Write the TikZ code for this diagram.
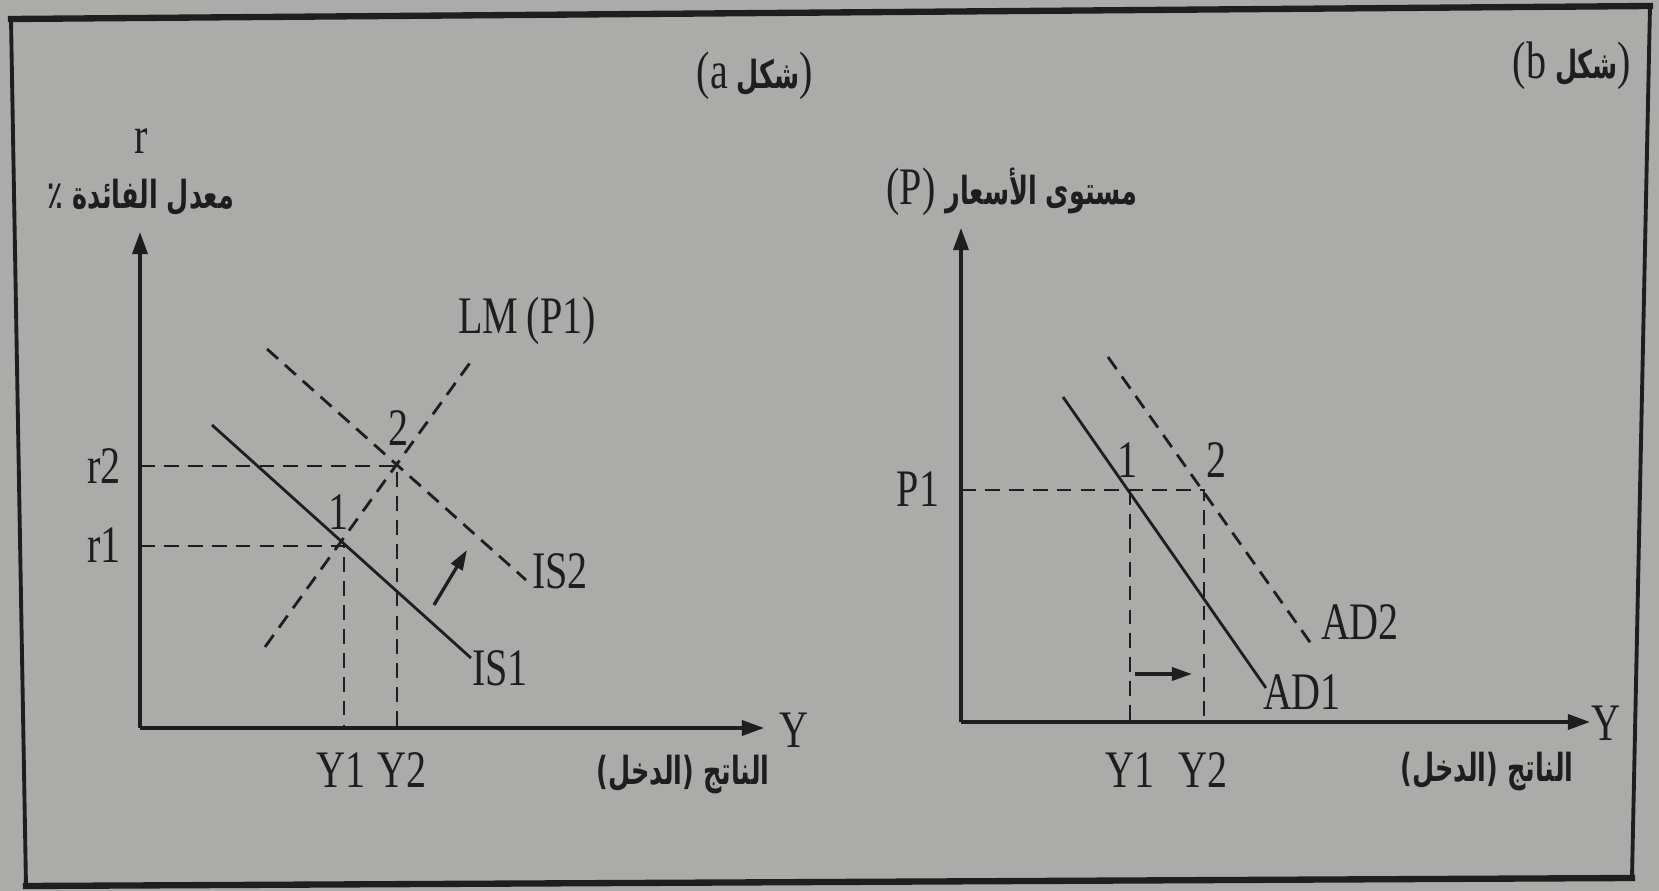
\documentclass[tikz,border=0pt]{standalone}
\usepackage{fontspec}
\setmainfont{Liberation Serif}[FakeStretch=0.76]
\newfontfamily\arabicfont[Script=Arabic,FakeStretch=0.66]{DejaVu Sans}
\TeXXeTstate=1
\usetikzlibrary{arrows.meta}
\definecolor{bg}{RGB}{171,172,170}
\definecolor{ink}{RGB}{30,30,30}
\begin{document}
\begin{tikzpicture}[x=0.01cm,y=-0.01cm,
  axis/.style={ink,line width=0.95pt,-{Triangle[length=0.22cm,width=0.15cm]}},
  curve/.style={ink,line width=0.8pt},
  dashcurve/.style={ink,line width=0.8pt,dash pattern=on 4.2pt off 2.6pt},
  guide/.style={ink,line width=0.8pt,dash pattern=on 4.2pt off 2.6pt},
  movearrow/.style={ink,line width=0.95pt,-{Triangle[length=0.2cm,width=0.13cm]}},
  lbl/.style={text=ink,inner sep=0pt,font=\fontsize{15}{15}\selectfont},
  ar/.style={text=ink,inner sep=0pt,font=\arabicfont\bfseries\fontsize{11}{11}\selectfont},
  framethick/.style={ink,line width=1.8pt,line cap=rect},
  framethin/.style={ink,line width=1.1pt,line cap=rect},
]
\fill[bg] (0,0) rectangle (1659,891);
\useasboundingbox (0,0) rectangle (1659,891);
% frame
\coordinate (TL) at (11,19);
\coordinate (TR) at (1650,6);
\coordinate (BR) at (1632,878);
\coordinate (BL) at (26,886);
\draw[framethick] (TL) -- (TR);
\draw[framethick] (BL) -- (BR);
\draw[framethin] (TL) -- (BL);
\draw[framethin] (TR) -- (BR);
% titles
\node[lbl] (ta) at (755,76) {(a{\arabicfont\bfseries\fontsize{11}{11}\selectfont\ شكل})};
\node[lbl] (tb) at (1572,66) {(b{\arabicfont\bfseries\fontsize{11}{11}\selectfont\ شكل})};

% ===== panel a =====
\coordinate (Ao) at (140,728);
\coordinate (Ay) at (140,232);
\coordinate (Ax) at (764,728);
\draw[axis] (Ao) -- (Ay);
\draw[axis] (Ao) -- (Ax);
\coordinate (r2a) at (140,466);
\coordinate (E2) at (397,466);
\coordinate (r1a) at (140,546);
\coordinate (E1) at (344,546);
\coordinate (y1a) at (344,728);
\coordinate (y2a) at (397,728);
\draw[guide] (r2a) -- (E2) -- (y2a);
\draw[guide] (r1a) -- (E1) -- (y1a);
\coordinate (IS1s) at (212,425);
\coordinate (IS1e) at (471,658);
\coordinate (IS2s) at (267,349);
\coordinate (IS2e) at (526,580);
\coordinate (LMs) at (265,647);
\coordinate (LMe) at (472,360);
\draw[curve] (IS1s) -- (IS1e);
\draw[dashcurve] (IS2s) -- (IS2e);
\draw[dashcurve] (LMs) -- (LMe);
\coordinate (mA1) at (434,605);
\coordinate (mA2) at (467,550);
\draw[movearrow] (mA1) -- (mA2);
\node[lbl] (lm) at (527,321) {LM\,(P1)};
\node[lbl] (is1) at (500,668) {IS1};
\node[lbl] (is2) at (560,571) {IS2};
\node[lbl] (n1a) at (339,512) {1};
\node[lbl] (n2a) at (399,428) {2};
\node[lbl] (r2) at (104,466) {r2};
\node[lbl] (r1) at (104,545) {r1};
\node[lbl] (rr) at (141,141) {r};
\node[lbl] (Y1a) at (341,770) {Y1};
\node[lbl] (Y2a) at (402,770) {Y2};
\node[lbl] (Ya) at (794,730) {Y};
\node[ar] (yla) at (141,197) {\beginR معدل الفائدة ٪\endR};
\node[ar] (xla) at (683,775) {)\kern0pt الدخل\kern0pt(~الناتج};

% ===== panel b =====
\coordinate (Bo) at (961,722);
\coordinate (By) at (961,228);
\coordinate (Bx) at (1590,722);
\draw[axis] (Bo) -- (By);
\draw[axis] (Bo) -- (Bx);
\coordinate (p1a) at (961,490);
\coordinate (F1) at (1130,490);
\coordinate (F2) at (1204,490);
\coordinate (y1b) at (1130,722);
\coordinate (y2b) at (1204,722);
\draw[guide] (p1a) -- (F2) -- (y2b);
\draw[guide] (F1) -- (y1b);
\coordinate (AD1s) at (1063,397);
\coordinate (AD1e) at (1266,688);
\coordinate (AD2s) at (1108,357);
\coordinate (AD2e) at (1312,645);
\draw[curve] (AD1s) -- (AD1e);
\draw[dashcurve] (AD2s) -- (AD2e);
\coordinate (mB1) at (1135,674);
\coordinate (mB2) at (1192,674);
\draw[movearrow] (mB1) -- (mB2);
\node[lbl] (ad2) at (1360,622) {AD2};
\node[lbl] (ad1) at (1302,692) {AD1};
\node[lbl] (n1b) at (1128,460) {1};
\node[lbl] (n2b) at (1217,460) {2};
\node[lbl] (p1) at (918,489) {P1};
\node[lbl] (Y1b) at (1130,770) {Y1};
\node[lbl] (Y2b) at (1203,770) {Y2};
\node[lbl] (Yb) at (1606,723) {Y};
\node[lbl] (ylb) at (1012,192) {(P)~{\arabicfont\bfseries\fontsize{11}{11}\selectfont\beginR مستوى الأسعار\endR}};
\node[ar] (xlb) at (1487,772) {)\kern0pt الدخل\kern0pt(~الناتج};
\end{tikzpicture}
\end{document}
